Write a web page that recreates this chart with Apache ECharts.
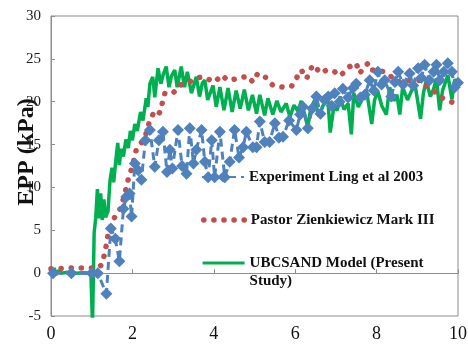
<!DOCTYPE html>
<html>
<head>
<meta charset="utf-8">
<script src="https://cdn.jsdelivr.net/npm/echarts@6.0.0/dist/echarts.min.js"></script>
<style>
    html, body { margin: 0; padding: 0; background: #fff; }
    #main { width: 468px; height: 345px; }
</style>
</head>
<body>
<div id="main"></div>
<script>
// axis ticks
var timeTicks = [0, 2, 4, 6, 8, 10];
var eppTicks = [-5, 0, 5, 10, 15, 20, 25, 30];

var seriesNames = ['Experiment Ling et al 2003', 'Pastor Zienkiewicz Mark III', 'UBCSAND Model (Present Study)'];

// [time (s), EPP (kPa)]
var experiment = [
    [0.05, 0], [0.5, 0], [1.0, 0], [1.15, 0], [1.36, -2.4], [1.47, 5.2], [1.58, 4.0], [1.68, 1.4],
    [1.78, 7.5], [1.85, 8.9], [1.93, 9.3], [1.98, 6.6], [2.06, 12.8], [2.14, 12], [2.22, 10.9],
    [2.32, 15.5], [2.43, 16.7], [2.55, 12.4], [2.65, 15.5], [2.75, 16.5], [2.85, 11.8], [2.92, 14.4],
    [2.98, 12.2], [3.12, 16.7], [3.22, 12.5], [3.33, 11.6], [3.41, 16.9], [3.5, 12.8], [3.57, 14.4],
    [3.7, 16.7], [3.78, 13], [3.86, 11.2], [3.95, 15.5], [4.02, 11.2], [4.15, 16.5], [4.27, 11.2],
    [4.39, 13.0], [4.51, 16.7], [4.62, 13.5], [4.72, 14.7], [4.8, 16.5], [4.96, 14.7], [5.05, 14.7],
    [5.13, 17.7], [5.25, 15.3], [5.37, 15.3], [5.5, 17.5], [5.6, 15.8], [5.7, 15.9], [5.85, 17.8],
    [6.03, 16.7], [6.12, 18.5], [6.19, 19.4], [6.31, 16.9], [6.42, 19.2], [6.52, 20.6], [6.62, 18.6],
    [6.72, 20.2], [6.81, 20.6], [6.9, 19.5], [6.97, 21], [7.09, 20], [7.17, 21.5], [7.3, 20.5],
    [7.42, 21.6], [7.5, 22.1], [7.6, 20.5], [7.71, 20.8], [7.83, 22.5], [7.93, 21.3], [8.03, 23.5],
    [8.12, 22], [8.2, 22.5], [8.36, 20.6], [8.45, 22.3], [8.53, 23.5], [8.65, 22], [8.81, 23.3],
    [8.9, 21.9], [9.02, 23.9], [9.1, 22.8], [9.18, 24.3], [9.3, 22.5], [9.4, 23.5], [9.47, 24.3],
    [9.55, 22.5], [9.65, 23.5], [9.75, 24.5], [9.85, 23.5], [9.92, 21.7], [10, 22.2]
];

var pastor = [
    [0, 0.5], [0.5, 0.6], [1.0, 0.6], [1.15, 0.6], [1.25, 1.0], [1.33, 2.5], [1.4, 4.5], [1.5, 6],
    [1.6, 6.8], [1.7, 7.5], [1.8, 9], [1.9, 11], [2.0, 12.5], [2.1, 14.5], [2.3, 15.7], [2.42, 17.7],
    [2.55, 19], [2.67, 18.7], [2.8, 21], [3.0, 21], [3.16, 21.9], [3.4, 22.3], [3.6, 22.8], [3.73, 22.9],
    [4.02, 22.3], [4.2, 23.1], [4.34, 22.5], [4.6, 22.7], [4.83, 23], [4.96, 22.3], [5.08, 23.3],
    [5.29, 22.8], [5.45, 21.9], [5.7, 21.7], [5.91, 21.8], [6.15, 23.7], [6.28, 22.7], [6.43, 24.3],
    [6.64, 23.3], [6.77, 23.7], [6.97, 23.5], [7.09, 23], [7.22, 23.5], [7.34, 24.1], [7.5, 24.5],
    [7.58, 23.3], [7.79, 24.5], [7.87, 23.7], [8.08, 23.7], [8.32, 23.1], [8.49, 22.3], [8.69, 22.5],
    [8.9, 22.4], [9.1, 22.5], [9.22, 21.9], [9.35, 21.5], [9.55, 20.6], [9.71, 20.2], [9.88, 19.9]
];

var ubcsand = [
    [0, 0.4], [0.04, -0.3], [0.08, 0.6], [0.12, -0.2], [0.18, 0.3], [0.25, 0], [0.4, 0.1], [0.6, 0],
    [0.8, 0.05], [0.98, 0], [1.02, -6], [1.06, 4.7], [1.1, 6.5], [1.14, 9.8], [1.18, 6.4], [1.22, 9.3],
    [1.26, 6.2], [1.3, 8.6], [1.34, 6.5], [1.4, 7.2], [1.45, 10.8], [1.5, 12.3], [1.54, 10.6], [1.6, 13.5],
    [1.64, 15.2], [1.68, 12.6], [1.72, 14.5], [1.78, 13.6], [1.84, 15.6], [1.9, 14.6], [1.95, 16.6],
    [2.0, 15.5], [2.06, 17.4], [2.12, 16.6], [2.2, 18.8], [2.26, 17.8], [2.34, 20.4], [2.38, 19.4],
    [2.43, 22.1], [2.5, 22.9], [2.55, 20.5], [2.63, 23.9], [2.7, 22.1], [2.76, 23.2], [2.83, 24.1],
    [2.9, 21.7], [2.96, 23], [3.04, 23.7], [3.1, 21.7], [3.2, 24.1], [3.28, 21.7], [3.35, 23.5],
    [3.45, 21], [3.57, 22.9], [3.65, 20.6], [3.72, 22.2], [3.78, 22.5], [3.85, 20.2], [3.98, 21.9],
    [4.06, 19.4], [4.15, 21.7], [4.25, 19], [4.35, 21.6], [4.45, 18.8], [4.55, 21.3], [4.65, 19.2],
    [4.75, 21.4], [4.85, 19], [4.95, 20.8], [5.05, 18.6], [5.13, 20.8], [5.25, 18.4], [5.33, 20.4],
    [5.45, 18.5], [5.55, 20.1], [5.65, 18.8], [5.78, 19.8], [5.87, 18.2], [5.97, 19.6], [6.07, 18.9],
    [6.15, 20.1], [6.31, 17.0], [6.38, 19.2], [6.48, 20.2], [6.58, 18.3], [6.68, 19.5], [6.8, 20.4],
    [6.86, 16.4], [6.95, 19.4], [7.03, 19.0], [7.1, 20.6], [7.2, 19.1], [7.3, 19.8], [7.38, 16.2],
    [7.44, 21], [7.55, 19.4], [7.65, 20.3], [7.75, 21.4], [7.88, 17.4], [7.95, 20.2], [8.03, 21.2],
    [8.13, 19.5], [8.24, 18.5], [8.32, 21.7], [8.42, 20.1], [8.5, 20.8], [8.57, 18.5], [8.64, 21.7],
    [8.76, 20.2], [8.86, 21.3], [8.94, 22.1], [9.08, 18], [9.15, 21], [9.22, 22.5], [9.32, 20.6],
    [9.4, 21.5], [9.47, 22.7], [9.55, 19], [9.62, 21.3], [9.75, 23.1], [9.85, 20.3], [9.92, 22.6], [10, 22.2]
];

window.onload = function () {
    var myChart = echarts.init(document.getElementById('main'));

    var serif = '"Liberation Serif", "Times New Roman", serif';
    var axisGrey = '#8c8c8c';

    // one legend per series so each row can sit where it does in the figure
    function oneLegend(name, top, hideSymbol, lineStyle) {
        return {
            data: [name],
            orient: 'vertical',
            left: 201,
            top: top,
            padding: 0,
            itemWidth: 42,
            itemHeight: 14,
            selectedMode: false,
            itemStyle: hideSymbol ? { opacity: 0 } : {},
            lineStyle: lineStyle || {},
            formatter: function (n) {
                // blank first line keeps the icon level with "UBCSAND..."
                return n === seriesNames[2] ? ' \nUBCSAND Model (Present\nStudy)' : n;
            },
            textStyle: {
                fontFamily: serif,
                fontWeight: 'bold',
                fontSize: 15,
                lineHeight: 18,
                color: '#111'
            }
        };
    }

    var option = {
        animation: false,
        grid: {
            left: 51, right: 10, top: 16, bottom: 29,
            outerBoundsMode: 'none',
            containLabel: false,
            show: true, borderColor: axisGrey, borderWidth: 1
        },
        legend: [
            oneLegend(seriesNames[0], 168, false),
            oneLegend(seriesNames[1], 211, true, { width: 5.5, type: [0.1, 10], cap: 'round' }),
            oneLegend(seriesNames[2], 236, true, { width: 3.2 })
        ],
        graphic: [{
            type: 'text',
            x: 27,
            y: 152,
            rotation: Math.PI / 2,
            style: {
                text: 'EPP (kPa)',
                font: 'bold 24px ' + serif,
                fill: '#111',
                align: 'center',
                verticalAlign: 'middle'
            }
        }],
        xAxis: {
            type: 'value',
            min: timeTicks[0],
            max: timeTicks[timeTicks.length - 1],
            interval: timeTicks[1] - timeTicks[0],
            name: 'Time (s)',
            nameLocation: 'middle',
            nameGap: 19,
            nameTextStyle: { fontFamily: serif, fontWeight: 'bold', fontSize: 14, color: '#111' },
            axisLine: { show: true, lineStyle: { color: axisGrey, width: 1 } },
            axisTick: { show: true, inside: true, length: 4, lineStyle: { color: axisGrey } },
            splitLine: { show: false },
            axisLabel: { fontFamily: serif, fontSize: 18, color: '#111', margin: 9 }
        },
        yAxis: {
            type: 'value',
            min: eppTicks[0],
            max: eppTicks[eppTicks.length - 1],
            interval: eppTicks[1] - eppTicks[0],
            axisLine: { show: true, lineStyle: { color: axisGrey, width: 1 } },
            axisTick: { show: true, inside: true, length: 4, lineStyle: { color: axisGrey } },
            splitLine: { show: false },
            axisLabel: { fontFamily: serif, fontSize: 15, color: '#222', margin: 10 }
        },
        series: [
            {
                name: seriesNames[0],
                type: 'line',
                data: experiment,
                z: 4,
                symbol: 'diamond',
                symbolSize: 12,
                showAllSymbol: true,
                itemStyle: { color: '#4F81BD' },
                lineStyle: { color: '#4F81BD', width: 3, type: [8, 5] }
            },
            {
                name: seriesNames[1],
                type: 'line',
                data: pastor,
                z: 3,
                symbol: 'none',
                itemStyle: { color: '#C0504D' },
                lineStyle: { color: '#C0504D', width: 5.5, type: [0.1, 10], cap: 'round' }
            },
            {
                name: seriesNames[2],
                type: 'line',
                data: ubcsand,
                z: 2,
                symbol: 'none',
                itemStyle: { color: '#00B050' },
                lineStyle: { color: '#00B050', width: 3.5 }
            }
        ]
    };

    myChart.setOption(option);
};
</script>
</body>
</html>
